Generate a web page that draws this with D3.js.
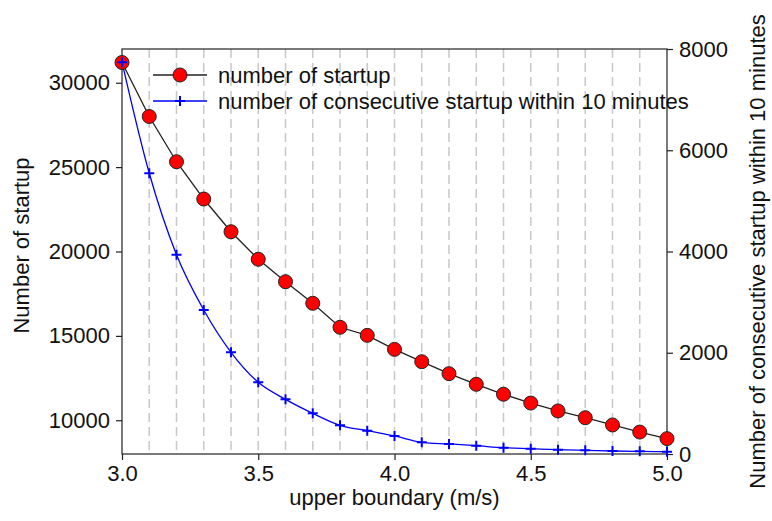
<!DOCTYPE html>
<html>
<head>
<meta charset="utf-8">
<script src="https://cdn.jsdelivr.net/npm/d3@7"></script>
<style>
  body { margin: 0; background: #fff; }
  svg text { font-family: "Liberation Sans", Arial, sans-serif; fill: #111; }
</style>
</head>
<body>
<svg id="chart" width="772" height="521"></svg>
<script>
// upper boundary values (m/s)
var speeds = [3.0, 3.1, 3.2, 3.3, 3.4, 3.5, 3.6, 3.7, 3.8, 3.9, 4.0,
              4.1, 4.2, 4.3, 4.4, 4.5, 4.6, 4.7, 4.8, 4.9, 5.0];
// number of startup (left axis)
var startups = [31200, 28000, 25320, 23110, 21170, 19540, 18210, 16930, 15510, 15030, 14200,
                13470, 12760, 12130, 11540, 11020, 10550, 10150, 9720, 9300, 8910];
// number of consecutive startup within 10 minutes (right axis)
var consecutive = [7740, 5545, 3937, 2844, 2009, 1416, 1080, 804, 567, 460, 356,
                   231, 198, 164, 125, 105, 85, 73, 59, 53, 45];
var xTicks = [3.0, 3.5, 4.0, 4.5, 5.0];
var leftTicks = [10000, 15000, 20000, 25000, 30000];
var rightTicks = [0, 2000, 4000, 6000, 8000];
var gridLines = [3.1, 3.2, 3.3, 3.4, 3.5, 3.6, 3.7, 3.8, 3.9, 4.0,
                 4.1, 4.2, 4.3, 4.4, 4.5, 4.6, 4.7, 4.8, 4.9];
var seriesNames = ["number of startup", "number of consecutive startup within 10 minutes"];

var margin = {top: 49, right: 105, bottom: 67, left: 122},
    width = 772 - margin.left - margin.right,
    height = 521 - margin.top - margin.bottom;

var fontSize = "22px";

var svg = d3.select("#chart");
var g = svg.append("g").attr("transform", "translate(" + margin.left + "," + margin.top + ")");

var x = d3.scaleLinear().domain([3.0, 5.0]).range([0, width]);
var yL = d3.scaleLinear().domain([8000, 32000]).range([height, 0]);
var yR = d3.scaleLinear().domain([0, 8000]).range([height, 0]);

// dashed vertical grid
g.selectAll(".grid")
    .data(gridLines)
    .enter().append("line")
    .attr("x1", function(d) { return x(d); })
    .attr("x2", function(d) { return x(d); })
    .attr("y1", 0)
    .attr("y2", height)
    .attr("stroke", "#c8c8c8")
    .attr("stroke-width", 1.5)
    .attr("stroke-dasharray", "9,5");

// frame
g.append("rect")
    .attr("width", width).attr("height", height)
    .attr("fill", "none").attr("stroke", "#222").attr("stroke-width", 1.2);

function styleAxis(sel) {
    sel.select(".domain").remove();
    sel.selectAll(".tick line").attr("stroke", "#222").attr("stroke-width", 1.2);
    sel.selectAll(".tick text").style("font-size", fontSize).attr("fill", "#111");
}

g.append("g")
    .attr("transform", "translate(0," + height + ")")
    .call(d3.axisBottom(x).tickValues(xTicks).tickFormat(d3.format(".1f")).tickSize(6).tickPadding(5))
    .call(styleAxis);

g.append("g")
    .call(d3.axisLeft(yL).tickValues(leftTicks).tickFormat(d3.format("d")).tickSize(6).tickPadding(6))
    .call(styleAxis);

g.append("g")
    .attr("transform", "translate(" + width + ",0)")
    .call(d3.axisRight(yR).tickValues(rightTicks).tickFormat(d3.format("d")).tickSize(6).tickPadding(6))
    .call(styleAxis);

// axis titles
g.append("text")
    .attr("x", width / 2).attr("y", height + 51)
    .attr("text-anchor", "middle").style("font-size", fontSize)
    .text("upper boundary (m/s)");

g.append("text")
    .attr("transform", "translate(" + (-93) + "," + (height / 2 - 6) + ")rotate(-90)")
    .attr("text-anchor", "middle").style("font-size", fontSize)
    .text("Number of startup");

g.append("text")
    .attr("transform", "translate(" + (width + 98) + "," + (height / 2) + ")rotate(-90)")
    .attr("text-anchor", "middle").style("font-size", fontSize)
    .text("Number of consecutive startup within 10 minutes");

// lines
var lineL = d3.line()
    .x(function(d, i) { return x(speeds[i]); })
    .y(function(d) { return yL(d); });
var lineR = d3.line()
    .x(function(d, i) { return x(speeds[i]); })
    .y(function(d) { return yR(d); })
    .curve(d3.curveMonotoneX);

g.append("path").datum(startups)
    .attr("d", lineL).attr("fill", "none").attr("stroke", "#222").attr("stroke-width", 1.3);

g.append("path").datum(consecutive)
    .attr("d", lineR).attr("fill", "none").attr("stroke", "#0000ff").attr("stroke-width", 1.3);

// markers
g.selectAll(".dot")
    .data(startups)
    .enter().append("circle")
    .attr("cx", function(d, i) { return x(speeds[i]); })
    .attr("cy", function(d) { return yL(d); })
    .attr("r", 7)
    .attr("fill", "#ff0000")
    .attr("stroke", "#222")
    .attr("stroke-width", 1);

function drawPlus(sel, cx, cy) {
    sel.append("path")
        .attr("d", "M" + (cx - 5) + "," + cy + "H" + (cx + 5) + "M" + cx + "," + (cy - 5) + "V" + (cy + 5))
        .attr("stroke", "#0000ff").attr("stroke-width", 2).attr("fill", "none");
}
consecutive.forEach(function(d, i) { drawPlus(g, x(speeds[i]), yR(d)); });

// legend
var legend = g.append("g").attr("transform", "translate(31,26)");
legend.append("line").attr("x1", 0).attr("x2", 54).attr("y1", 0).attr("y2", 0)
    .attr("stroke", "#222").attr("stroke-width", 1.3);
legend.append("circle").attr("cx", 27).attr("cy", 0).attr("r", 7)
    .attr("fill", "#ff0000").attr("stroke", "#222");
legend.append("line").attr("x1", 0).attr("x2", 54).attr("y1", 26).attr("y2", 26)
    .attr("stroke", "#0000ff").attr("stroke-width", 1.3);
drawPlus(legend, 27, 26);
legend.selectAll(".ltext")
    .data(seriesNames)
    .enter().append("text")
    .attr("x", 65)
    .attr("y", function(d, i) { return i * 26; })
    .attr("dy", "0.35em")
    .style("font-size", fontSize)
    .text(function(d) { return d; });
</script>
</body>
</html>
